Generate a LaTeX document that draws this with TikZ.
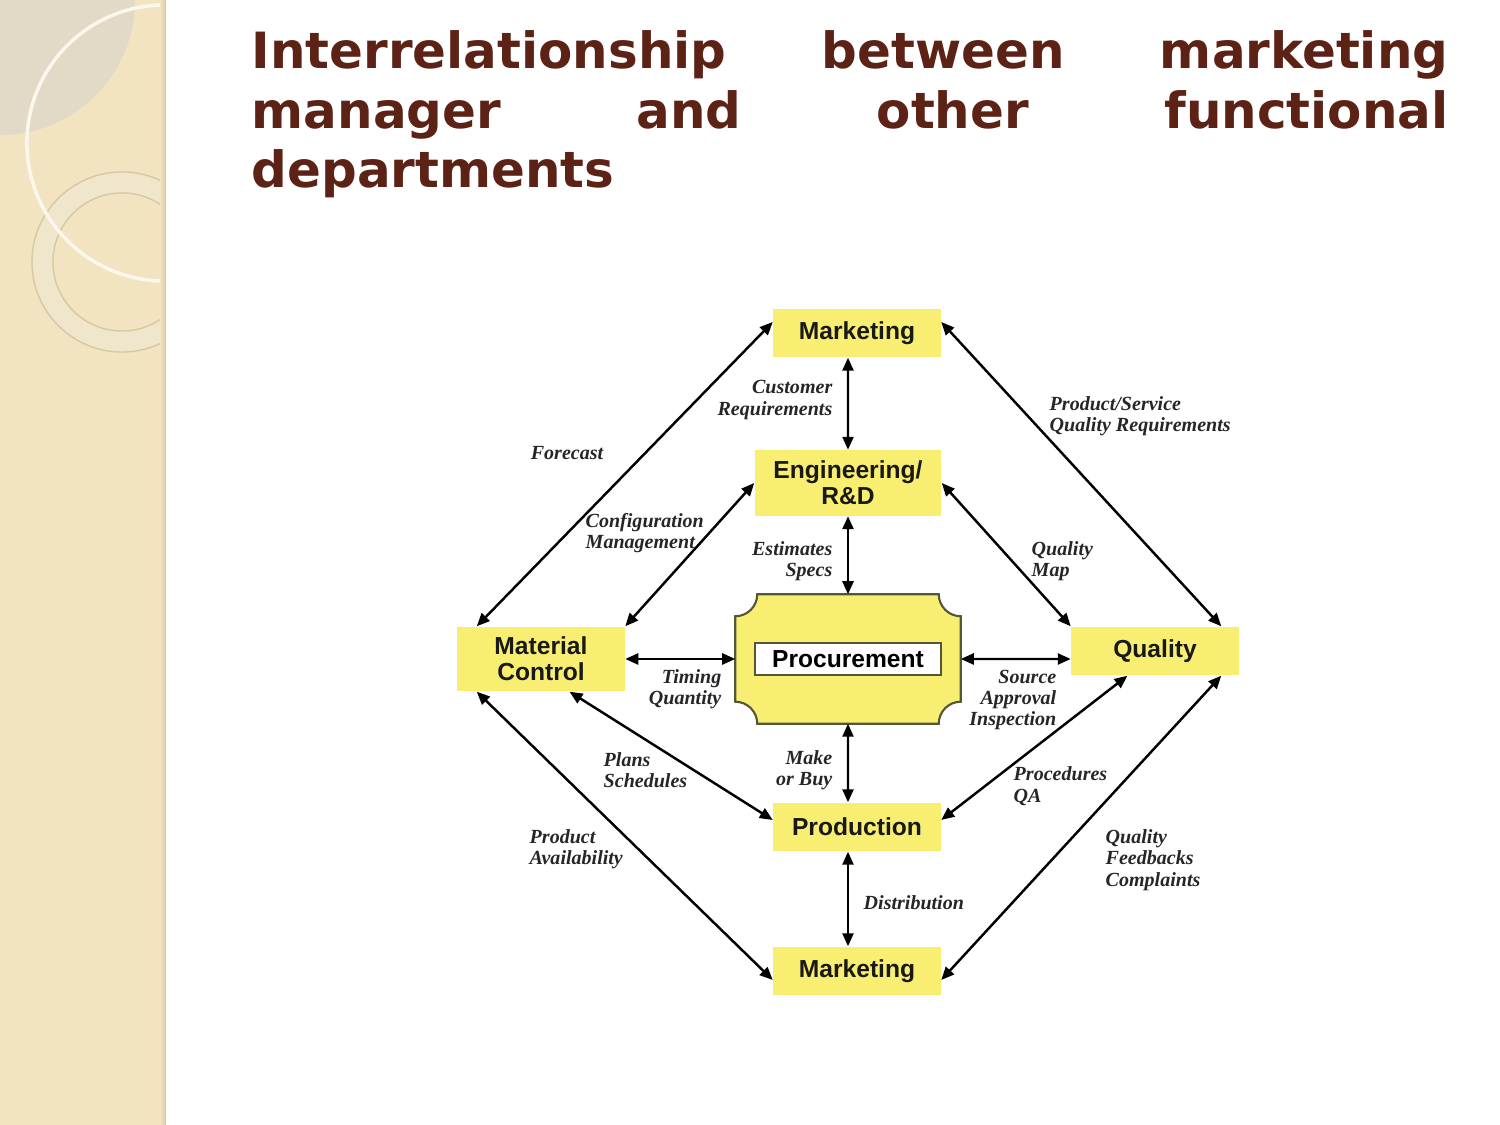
\documentclass[tikz,border=0pt]{standalone}
\usepackage{fontspec}
\setmainfont{Liberation Serif}
\newfontfamily\titlefont{DejaVu Sans}
\newfontfamily\boxfont{Liberation Sans}
\usetikzlibrary{arrows.meta,positioning}
\definecolor{titlebrown}{HTML}{5C2216}
\definecolor{boxyellow}{HTML}{F8EE72}
\definecolor{stripbeige}{HTML}{F2E4C0}
\definecolor{stripgray}{HTML}{E2D9C6}
\definecolor{ringbeige}{HTML}{F0E6CC}
\definecolor{ringedge}{HTML}{D6C8A2}
\definecolor{procedge}{HTML}{55553A}

\begin{document}
\begin{tikzpicture}[x=0.01cm, y=0.01cm,
    box/.style={fill=boxyellow, minimum width=1.67cm, minimum height=0.48cm, inner sep=0pt, align=center, font=\boxfont\bfseries\fontsize{7}{7.4}\selectfont, text=black!90},
    lbl/.style={inner sep=0pt, font=\bfseries\itshape\fontsize{5.7}{6.1}\selectfont, text=black!85},
    arrow/.style={{Triangle[length=1.3mm,width=1.1mm]}-{Triangle[length=1.3mm,width=1.1mm]}, line width=0.7pt}
]
\useasboundingbox (0,0) rectangle (1500,1125);
\fill[white] (0,0) rectangle (1500,1125);

% left strip
\fill[stripbeige] (0,0) rectangle (165,1125);
\begin{scope}
  \clip (0,0) rectangle (165,1125);
  \fill[stripgray] (0,1125) circle[radius=1.35cm];
  \fill[ringbeige, even odd rule] (122,863) circle[radius=0.9cm] (122,863) circle[radius=0.69cm];
  \draw[ringedge, line width=0.4pt] (122,863) circle[radius=0.9cm] (122,863) circle[radius=0.69cm];
  \draw[white!70!stripbeige, line width=1pt] (165,982) circle[radius=1.38cm];
\end{scope}
\shade[left color=stripbeige, right color=ringedge] (160,0) rectangle (166,1125);

% title
\node[anchor=north west, inner sep=0pt, align=left, text=titlebrown, font=\titlefont\bfseries\fontsize{14.2}{16.9}\selectfont] (title) at (251,1095)
  {\makebox[11.96cm][s]{Interrelationship between marketing}\\
   \makebox[11.96cm][s]{manager and other functional}\\
   departments};

% departments
\node[box] (mtop) at (857,792) {Marketing};
\node[box, minimum width=1.86cm, minimum height=0.65cm] (eng) at (848,642) {Engineering/\\R\&D};
\node[box, minimum height=0.64cm] (matl) at (541,466) {Material\\Control};
\node[box] (qual) at (1155,474) {Quality};
\node[box] (prod) at (857,298) {Production};
\node[box] (mbot) at (857,154) {Marketing};

% procurement
\node[minimum width=2.24cm, minimum height=1.28cm, inner sep=0pt] (proc) at (848,466) {};
\draw[procedge, fill=boxyellow, line width=0.6pt]
  ([xshift=2.2mm]proc.north west) -- ([xshift=-2.2mm]proc.north east)
  arc[start angle=180, end angle=270, radius=2.2mm]
  -- ([yshift=2.2mm]proc.south east)
  arc[start angle=90, end angle=180, radius=2.2mm]
  -- ([xshift=2.2mm]proc.south west)
  arc[start angle=0, end angle=90, radius=2.2mm]
  -- ([yshift=-2.2mm]proc.north west)
  arc[start angle=270, end angle=360, radius=2.2mm]
  -- cycle;
\node[draw=procedge, fill=white, line width=0.6pt, minimum width=1.86cm, minimum height=0.32cm, inner sep=0pt, font=\boxfont\bfseries\fontsize{7}{7.4}\selectfont] (proctext) at (proc) {Procurement};

% labels
\node[lbl] (lfore) at (567,672) {Forecast};
\node[lbl, anchor=west, align=left] (lpsq) at (1049,709) {Product/Service\\Quality Requirements};
\node[lbl, anchor=east, align=right] (lcust) at (833,725) {Customer\\Requirements};
\node[lbl, anchor=west, align=left] (lconf) at (585,592) {Configuration\\Management};
\node[lbl, anchor=west, align=left] (lqmap) at (1031,564) {Quality\\Map};
\node[lbl, anchor=east, align=right] (lest) at (833,564) {Estimates\\Specs};
\node[lbl, anchor=east, align=right] (ltime) at (722,436) {Timing\\Quantity};
\node[lbl, anchor=east, align=right] (lsrc) at (1057,425) {Source\\Approval\\Inspection};
\node[lbl, anchor=east, align=right] (lmake) at (833,355) {Make\\or Buy};
\node[lbl, anchor=west, align=left] (lplan) at (603,355) {Plans\\Schedules};
\node[lbl, anchor=west, align=left] (lavail) at (529,276) {Product\\Availability};
\node[lbl, anchor=west, align=left] (lproc) at (1013,339) {Procedures\\QA};
\node[lbl, anchor=west, align=left] (lfeed) at (1105,265) {Quality\\Feedbacks\\Complaints};
\node[lbl, anchor=west] (ldist) at (863,222) {Distribution};

% connections
\draw[arrow] ([yshift=1.1mm]mtop.west) -- ([xshift=2mm]matl.north west);
\draw[arrow] ([yshift=1.1mm]mtop.east) -- ([xshift=-1.8mm]qual.north east);
\draw[arrow] ([xshift=-0.9mm]mtop.south) -- (eng.north);
\draw[arrow] (eng.west) -- (matl.north east);
\draw[arrow] (eng.east) -- (qual.north west);
\draw[arrow] (eng.south) -- (proc.north);
\draw[arrow] (matl.east) -- (proc.west);
\draw[arrow] (proc.east) -- ([yshift=-0.8mm]qual.west);
\draw[arrow] (proc.south) -- ([xshift=-0.9mm]prod.north);
\draw[arrow] ([xshift=2.85mm]matl.south) -- ([yshift=0.7mm]prod.west);
\draw[arrow] ([xshift=2mm]matl.south west) -- ([yshift=-0.9mm]mbot.west);
\draw[arrow] ([xshift=-2.75mm]qual.south) -- ([yshift=0.7mm]prod.east);
\draw[arrow] ([xshift=-1.8mm]qual.south east) -- ([yshift=-0.9mm]mbot.east);
\draw[arrow] ([xshift=-0.9mm]prod.south) -- ([xshift=-0.9mm]mbot.north);
\end{tikzpicture}
\end{document}
